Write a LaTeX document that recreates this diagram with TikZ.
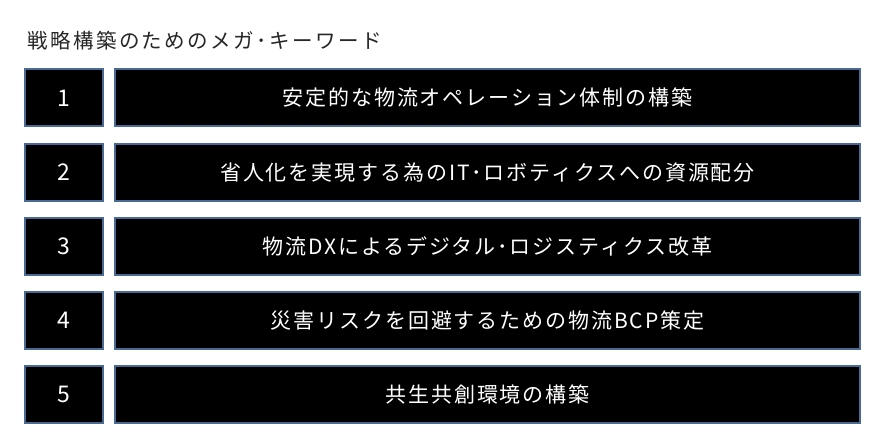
\documentclass[tikz,border=0pt]{standalone}
\usepackage{fontspec}
\newfontfamily\cjk{Noto Sans CJK JP}
\newfontfamily\cjkkey[LetterSpace=9]{Noto Sans CJK JP}
\newfontfamily\cjktitle[LetterSpace=12]{Noto Sans CJK JP}
\usetikzlibrary{positioning}
\definecolor{boxline}{HTML}{4A6A96}

\begin{document}
\begin{tikzpicture}[x=1pt,y=-1pt,
    numbox/.style={draw=boxline, line width=2pt, fill=black, text=white,
      minimum width=78pt, minimum height=57pt, inner sep=0pt,
      font=\cjk\fontsize{23}{23}\selectfont},
    keybox/.style={draw=boxline, line width=2pt, fill=black, text=white,
      minimum width=745pt, minimum height=57pt, inner sep=0pt,
      font=\cjkkey\fontsize{21}{21}\selectfont}]
    \useasboundingbox (0,0) rectangle (886,443);
    \node[anchor=west, inner sep=0pt, text=black!85,
      font=\cjktitle\fontsize{20.5}{20.5}\selectfont] (title) at (27,41)
      {戦略構築のためのメガ･キーワード};
    \node[numbox] (num1) at (64,98) {1};
    \node[keybox, right=10pt of num1] (key1) {安定的な物流オペレーション体制の構築};
    \node[numbox] (num2) at (64,172.2) {2};
    \node[keybox, right=10pt of num2] (key2) {省人化を実現する為のIT･ロボティクスへの資源配分};
    \node[numbox] (num3) at (64,246.4) {3};
    \node[keybox, right=10pt of num3] (key3) {物流DXによるデジタル･ロジスティクス改革};
    \node[numbox] (num4) at (64,320.6) {4};
    \node[keybox, right=10pt of num4] (key4) {災害リスクを回避するための物流BCP策定};
    \node[numbox] (num5) at (64,394.8) {5};
    \node[keybox, right=10pt of num5] (key5) {共生共創環境の構築};
\end{tikzpicture}
\end{document}
